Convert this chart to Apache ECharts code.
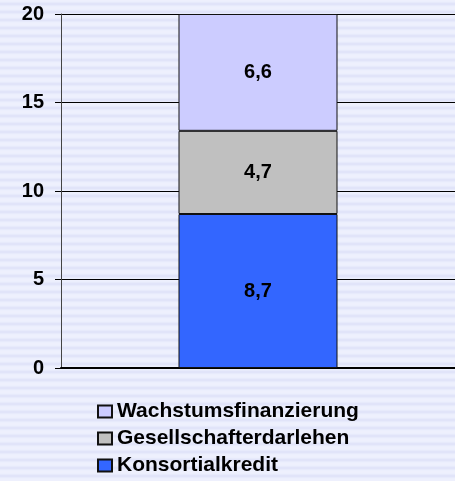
<!DOCTYPE html>
<html>
  <head>
    <meta charset="utf-8" />
    <title>Finanzierung</title>
    <script src="https://cdn.jsdelivr.net/npm/echarts@6/dist/echarts.min.js"></script>
  </head>
  <body style="margin:0;">
    <div id="main" style="width:455px;height:481px;"></div>
    <script type="text/javascript">
// Werte (Mio.), von unten nach oben gestapelt
var categories = [''];
var seriesNames = ['Konsortialkredit', 'Gesellschafterdarlehen', 'Wachstumsfinanzierung'];
var konsortialkredit = [8.7];
var gesellschafterdarlehen = [4.7];
var wachstumsfinanzierung = [6.6];
var seriesColors = ['#3366ff', '#c0c0c0', '#ccccff'];

// gestreifter Hintergrund
var stripe = document.createElement('canvas');
stripe.width = 4;
stripe.height = 8;
var ctx = stripe.getContext('2d');
var rows = ['#eef0fd', '#eceffd', '#e7eafb', '#e1e4f9', '#e1e4f9', '#e7eafb', '#eceffd', '#eef0fd'];
rows.forEach(function (c, i) {
  ctx.fillStyle = c;
  ctx.fillRect(0, i, 4, 1);
});

var chartDom = document.getElementById('main');
var myChart = echarts.init(chartDom);

var allData = [konsortialkredit, gesellschafterdarlehen, wachstumsfinanzierung];
var series = seriesNames.map(function (name, i) {
  return {
    name: name,
    type: 'bar',
    stack: 'total',
    barWidth: 159,
    data: allData[i],
    itemStyle: { color: seriesColors[i], borderColor: '#111', borderWidth: 1 },
    label: {
      show: true,
      position: 'inside',
      color: '#000',
      fontFamily: 'Liberation Sans, Arial',
      fontWeight: 'bold',
      fontSize: 20,
      formatter: function (p) {
        return p.value.toFixed(1).replace('.', ',');
      }
    }
  };
});

var option = {
  animation: false,
  backgroundColor: { image: stripe, repeat: 'repeat' },
  grid: { left: 61, top: 14, right: 0, bottom: 113 },
  legend: {
    orient: 'vertical',
    left: 97,
    top: 401,
    padding: 0,
    data: ['Wachstumsfinanzierung', 'Gesellschafterdarlehen', 'Konsortialkredit'],
    icon: 'rect',
    itemWidth: 14,
    itemHeight: 12,
    itemGap: 6,
    textStyle: {
      color: '#000',
      fontFamily: 'Liberation Sans, Arial',
      fontWeight: 'bold',
      fontSize: 21
    }
  },
  xAxis: {
    type: 'category',
    data: categories,
    axisLine: { lineStyle: { color: '#000', width: 2 } },
    axisTick: { show: false },
    axisLabel: { show: false }
  },
  yAxis: {
    type: 'value',
    min: 0,
    max: 20,
    interval: 5,
    axisLine: { show: true, lineStyle: { color: '#444', width: 1 } },
    axisTick: { show: true, length: 6, lineStyle: { color: '#000' } },
    axisLabel: {
      margin: 17,
      color: '#000',
      fontFamily: 'Liberation Sans, Arial',
      fontWeight: 'bold',
      fontSize: 20
    },
    splitLine: { show: true, lineStyle: { color: '#000', width: 1 } }
  },
  series: series
};

myChart.setOption(option);
    </script>
  </body>
</html>
